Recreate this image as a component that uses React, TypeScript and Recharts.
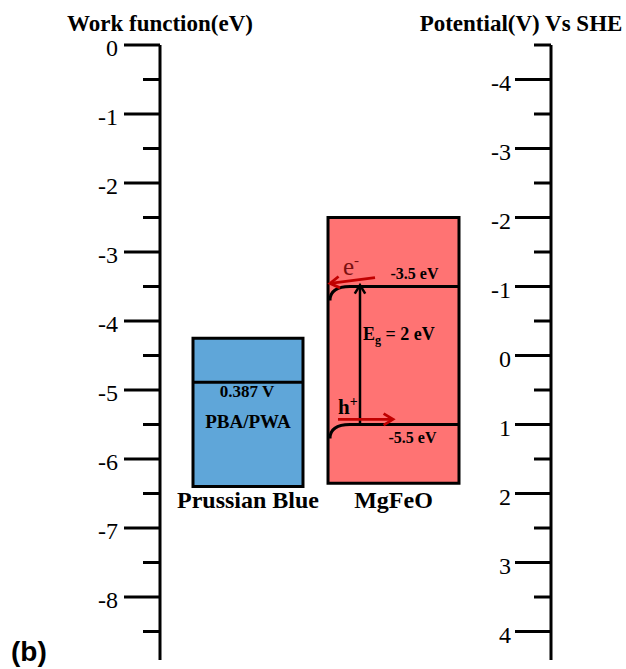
import React from 'react';
import {
  ComposedChart,
  XAxis,
  YAxis,
  ReferenceArea,
  ReferenceLine,
  ReferenceDot,
} from 'recharts';

// Energy scale (eV vs vacuum) and its SHE counterpart: V = SHE_ZERO - E
const SHE_ZERO = -4.5;
const ENERGY_FLOOR = -8.913;

const workFunctionTicks = [
  0, -0.5, -1, -1.5, -2, -2.5, -3, -3.5, -4, -4.5, -5, -5.5, -6, -6.5, -7, -7.5, -8, -8.5,
];
const potentialTicks = [
  -4.5, -4, -3.5, -3, -2.5, -2, -1.5, -1, -0.5, 0, 0.5, 1, 1.5, 2, 2.5, 3, 3.5, 4,
];

const materials = ['Prussian Blue', 'MgFeO'];
const blockTop = [-4.25, -2.5]; // eV
const blockBottom = [-6.4, -6.35]; // eV

const redoxPotential = 0.387; // V vs SHE
const redoxLabels = ['0.387 V', 'PBA/PWA'];

const conductionBand = -3.5; // eV
const valenceBand = -5.5; // eV
const bandGap = conductionBand - valenceBand;
const bandLabels = ['-3.5 eV', '-5.5 eV'];

// Horizontal layout of the drawing (x axis runs 0..100 across the plot)
const layout = {
  blocks: [
    [8.44, 36.57],
    [42.97, 76.47],
  ],
  gapArrowX: 51.15,
  electronArrow: { from: 54.99, to: 43.48, lift1: 0.13, lift2: 0.045 },
  holeArrow: { from: 45.52, to: 59.59, lift: 0.075 },
};

const colors = {
  blue: '#5fa6d9',
  red: '#ff7373',
  arrow: '#c00000',
  electron: '#7a1010',
  ink: '#000',
};

const SERIF = '"Liberation Serif", "Times New Roman", Times, serif';
const SANS = '"Liberation Sans", Arial, Helvetica, sans-serif';

const redoxEnergy = SHE_ZERO - redoxPotential;

const isMajor = (v: number) => Math.abs(v - Math.round(v)) < 1e-6;

const AxisTick = (props: any) => {
  const { x, y, payload, gap } = props;
  const v = payload.value as number;
  const major = isMajor(v);
  const len = major ? 36 : 17;
  return (
    <g>
      <line x1={x - len} y1={y} x2={x} y2={y} stroke={colors.ink} strokeWidth={3} />
      {major && (
        <text
          x={x - len - gap}
          y={y + 11}
          textAnchor="end"
          fontSize={24}
          fontFamily={SERIF}
          fill={colors.ink}
        >
          {String(Math.round(v))}
        </text>
      )}
    </g>
  );
};

const LeftTitle = (props: any) => {
  const vb = props.viewBox || {};
  const axisX = vb.x + vb.width;
  return (
    <g>
      <text
        x={axisX}
        y={vb.y - 14}
        textAnchor="middle"
        fontSize={23}
        fontWeight="bold"
        fontFamily={SERIF}
        fill={colors.ink}
      >
        Work function(eV)
      </text>
      <text
        x={11}
        y={vb.y + vb.height + 1}
        fontSize={28}
        fontWeight="bold"
        fontFamily={SANS}
        fill={colors.ink}
      >
        (b)
      </text>
    </g>
  );
};

const RightTitle = (props: any) => {
  const vb = props.viewBox || {};
  return (
    <text
      x={vb.x - 30}
      y={vb.y - 14}
      textAnchor="middle"
      fontSize={23}
      fontWeight="bold"
      fontFamily={SERIF}
      fill={colors.ink}
    >
      Potential(V) Vs SHE
    </text>
  );
};

// Band edge with downward bending at the left interface
const BandEdge = (props: any) => {
  const { x1, y1, x2 } = props;
  const left = Math.min(x1, x2) + 2;
  const right = Math.max(x1, x2);
  return (
    <path
      d={`M${left},${y1 + 14} Q${left},${y1} ${left + 20},${y1} L${right},${y1}`}
      fill="none"
      stroke={colors.ink}
      strokeWidth={3}
    />
  );
};

const StraightEdge = (props: any) => {
  const { x1, y1, x2, y2 } = props;
  return <line x1={x1} y1={y1} x2={x2} y2={y2} stroke={colors.ink} strokeWidth={3} />;
};

const makeArrow = (color: string, width: number, head: number) => (props: any) => {
  const { x1, y1, x2, y2 } = props;
  const ang = Math.atan2(y2 - y1, x2 - x1);
  const spread = 0.55;
  const ax = x2 - head * Math.cos(ang - spread);
  const ay = y2 - head * Math.sin(ang - spread);
  const bx = x2 - head * Math.cos(ang + spread);
  const by = y2 - head * Math.sin(ang + spread);
  return (
    <g>
      <line x1={x1} y1={y1} x2={x2} y2={y2} stroke={color} strokeWidth={width} />
      <polyline
        points={`${ax},${ay} ${x2},${y2} ${bx},${by}`}
        fill="none"
        stroke={color}
        strokeWidth={width}
      />
    </g>
  );
};

const textShape =
  (content: React.ReactNode, opts: { dx?: number; dy?: number; size: number; bold?: boolean; anchor?: string; color?: string }) =>
  (p: any) => (
    <text
      x={p.cx + (opts.dx || 0)}
      y={p.cy + (opts.dy || 0)}
      textAnchor={opts.anchor || 'middle'}
      fontSize={opts.size}
      fontWeight={opts.bold ? 'bold' : 'normal'}
      fontFamily={SERIF}
      fill={opts.color || colors.ink}
    >
      {content}
    </text>
  );

export default function App() {
  const [pb, mg] = layout.blocks;
  const pbMid = (pb[0] + pb[1]) / 2;
  const mgMid = (mg[0] + mg[1]) / 2;
  const ea = layout.electronArrow;
  const ha = layout.holeArrow;

  return (
    <div style={{ position: 'absolute', left: 0, top: 0, background: '#fff' }}>
      <ComposedChart
        width={626}
        height={669}
        margin={{ top: 45, right: 0, bottom: 9, left: 0 }}
      >
        <XAxis xAxisId="x" type="number" dataKey="x" domain={[0, 100]} allowDataOverflow hide />
        <YAxis
          yAxisId="wf"
          type="number"
          domain={[ENERGY_FLOOR, 0]}
          allowDataOverflow
          ticks={workFunctionTicks}
          interval={0}
          width={160}
          tickSize={0}
          tickMargin={0}
          tickLine={false}
          axisLine={{ stroke: colors.ink, strokeWidth: 3 }}
          tick={(p: any) => <AxisTick {...p} gap={6} />}
          label={<LeftTitle />}
        />
        <YAxis
          yAxisId="she"
          orientation="right"
          type="number"
          domain={[SHE_ZERO, SHE_ZERO - ENERGY_FLOOR]}
          reversed
          allowDataOverflow
          ticks={potentialTicks}
          interval={0}
          width={75}
          tickSize={0}
          tickMargin={0}
          tickLine={false}
          axisLine={{ stroke: colors.ink, strokeWidth: 3 }}
          tick={(p: any) => <AxisTick {...p} gap={4} />}
          label={<RightTitle />}
        />

        {/* material blocks */}
        <ReferenceArea
          xAxisId="x"
          yAxisId="wf"
          x1={pb[0]}
          x2={pb[1]}
          y1={blockBottom[0]}
          y2={blockTop[0]}
          fill={colors.blue}
          fillOpacity={1}
          stroke={colors.ink}
          strokeWidth={3}
        />
        <ReferenceArea
          xAxisId="x"
          yAxisId="wf"
          x1={mg[0]}
          x2={mg[1]}
          y1={blockBottom[1]}
          y2={blockTop[1]}
          fill={colors.red}
          fillOpacity={1}
          stroke={colors.ink}
          strokeWidth={3}
        />

        {/* redox level of the Prussian blue analogue */}
        <ReferenceLine
          xAxisId="x"
          yAxisId="wf"
          segment={[
            { x: pb[0], y: redoxEnergy },
            { x: pb[1], y: redoxEnergy },
          ]}
          shape={StraightEdge}
        />

        {/* conduction and valence band edges */}
        <ReferenceLine
          xAxisId="x"
          yAxisId="wf"
          segment={[
            { x: mg[0], y: conductionBand },
            { x: mg[1], y: conductionBand },
          ]}
          shape={BandEdge}
        />
        <ReferenceLine
          xAxisId="x"
          yAxisId="wf"
          segment={[
            { x: mg[0], y: valenceBand },
            { x: mg[1], y: valenceBand },
          ]}
          shape={BandEdge}
        />

        {/* band gap arrow */}
        <ReferenceLine
          xAxisId="x"
          yAxisId="wf"
          segment={[
            { x: layout.gapArrowX, y: valenceBand },
            { x: layout.gapArrowX, y: conductionBand + 0.02 },
          ]}
          shape={makeArrow(colors.ink, 2.5, 10)}
        />

        {/* electron and hole transfer arrows */}
        <ReferenceLine
          xAxisId="x"
          yAxisId="wf"
          segment={[
            { x: ea.from, y: conductionBand + ea.lift1 },
            { x: ea.to, y: conductionBand + ea.lift2 },
          ]}
          shape={makeArrow(colors.arrow, 2.8, 11)}
        />
        <ReferenceLine
          xAxisId="x"
          yAxisId="wf"
          segment={[
            { x: ha.from, y: valenceBand + ha.lift },
            { x: ha.to, y: valenceBand + ha.lift },
          ]}
          shape={makeArrow(colors.arrow, 2.8, 11)}
        />

        {/* annotations */}
        <ReferenceDot
          xAxisId="x"
          yAxisId="wf"
          x={pbMid}
          y={redoxEnergy}
          shape={textShape(redoxLabels[0], { dy: 15, size: 17, bold: true, dx: -1 })}
        />
        <ReferenceDot
          xAxisId="x"
          yAxisId="wf"
          x={pbMid}
          y={redoxEnergy}
          shape={textShape(redoxLabels[1], { dy: 46, size: 19, bold: true })}
        />
        <ReferenceDot
          xAxisId="x"
          yAxisId="wf"
          x={pbMid}
          y={blockBottom[0]}
          shape={textShape(materials[0], { dy: 21.5, size: 24, bold: true })}
        />
        <ReferenceDot
          xAxisId="x"
          yAxisId="wf"
          x={mgMid}
          y={blockBottom[1]}
          shape={textShape(materials[1], { dy: 25, size: 24, bold: true })}
        />
        <ReferenceDot
          xAxisId="x"
          yAxisId="wf"
          x={mgMid}
          y={conductionBand}
          shape={textShape(bandLabels[0], { dx: 21, dy: -8, size: 16, bold: true })}
        />
        <ReferenceDot
          xAxisId="x"
          yAxisId="wf"
          x={mgMid}
          y={valenceBand}
          shape={textShape(bandLabels[1], { dx: 19, dy: 18, size: 16, bold: true })}
        />
        <ReferenceDot
          xAxisId="x"
          yAxisId="wf"
          x={layout.gapArrowX}
          y={(conductionBand + valenceBand) / 2}
          shape={textShape(
            <>
              <tspan>E</tspan>
              <tspan fontSize={12} dy={4}>g</tspan>
              <tspan dy={-4}>{` = ${bandGap} eV`}</tspan>
            </>,
            { dx: 3, dy: -16, size: 18, bold: true, anchor: 'start' }
          )}
        />
        <ReferenceDot
          xAxisId="x"
          yAxisId="wf"
          x={ea.to}
          y={conductionBand}
          shape={textShape(
            <>
              <tspan>e</tspan>
              <tspan fontSize={15} dy={-10}>-</tspan>
            </>,
            { dx: 13, dy: -12, size: 25, anchor: 'start', color: colors.electron }
          )}
        />
        <ReferenceDot
          xAxisId="x"
          yAxisId="wf"
          x={ha.from}
          y={valenceBand}
          shape={textShape(
            <>
              <tspan>h</tspan>
              <tspan fontSize={14} dy={-8}>+</tspan>
            </>,
            { dx: 0, dy: -11, size: 21, bold: true, anchor: 'start' }
          )}
        />
      </ComposedChart>
    </div>
  );
}
